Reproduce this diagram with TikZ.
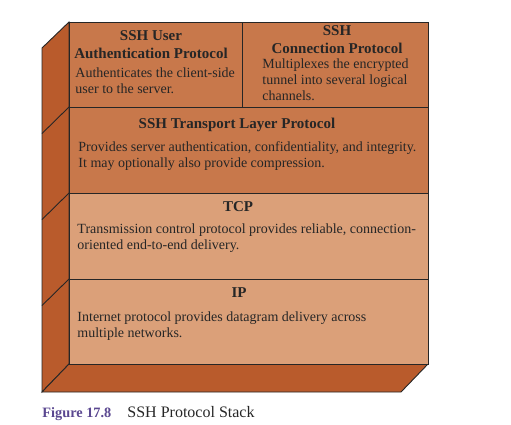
\documentclass[tikz,border=0pt]{standalone}
\usepackage{fontspec}
\setmainfont{Liberation Serif}
\definecolor{layerdark}{HTML}{C8784B}
\definecolor{layerlight}{HTML}{DBA079}
\definecolor{sideface}{HTML}{B95B2C}
\definecolor{figpurple}{HTML}{5A4790}
\definecolor{ink}{HTML}{262626}
\tikzset{
  title/.style={font=\fontsize{15}{17.5}\selectfont\bfseries, align=center, anchor=base, inner sep=0pt, text=ink},
  body/.style={font=\fontsize{14}{16}\selectfont, align=left, anchor=base west, inner sep=0pt, text=ink},
}
\begin{document}
\begin{tikzpicture}[x=1pt, y=-1pt, line width=0.9pt, draw=ink]
  \useasboundingbox (0,0) rectangle (511,424);
  % side and bottom faces
  \filldraw[fill=sideface] (69,22) -- (42,48) -- (42,392) -- (69,364) -- cycle;
  \filldraw[fill=sideface] (69,364) -- (428,364) -- (401,392) -- (42,392) -- cycle;
  \foreach \y in {107,193,279}
    \draw (69,\y) -- (42,\y+26.5);
  % front layers
  \filldraw[fill=layerdark] (69,22) rectangle (242,107);
  \filldraw[fill=layerdark] (242,22) rectangle (428,107);
  \filldraw[fill=layerdark] (69,107) rectangle (428,193);
  \filldraw[fill=layerlight] (69,193) rectangle (428,279);
  \filldraw[fill=layerlight] (69,279) rectangle (428,364);
  % user authentication (base = last line)
  \node[title] (authtitle) at (151,58) {SSH User\\Authentication Protocol};
  \node[body] (authtext) at (75,93) {Authenticates the client-side\\user to the server.};
  % connection
  \node[title] (conntitle) at (337,53) {SSH\\Connection Protocol};
  \node[body] (conntext) at (262,100) {Multiplexes the encrypted\\tunnel into several logical\\channels.};
  % transport
  \node[title] (transtitle) at (237,128) {SSH Transport Layer Protocol};
  \node[body] (transtext) at (78,167) {Provides server authentication, confidentiality, and integrity.\\It may optionally also provide compression.};
  % tcp
  \node[title] (tcptitle) at (238,211) {TCP};
  \node[body] (tcptext) at (77,249) {Transmission control protocol provides reliable, connection-\\oriented end-to-end delivery.};
  % ip
  \node[title] (iptitle) at (239,297) {IP};
  \node[body] (iptext) at (77,337) {Internet protocol provides datagram delivery across\\multiple networks.};
  % caption
  \node[anchor=base west, inner sep=0pt, font=\fontsize{14.3}{16}\selectfont\bfseries, text=figpurple] (figlabel) at (42,417) {Figure 17.8};
  \node[anchor=base west, inner sep=0pt, font=\fontsize{16}{18}\selectfont, text=ink] (figtitle) at (127,417) {SSH Protocol Stack};
\end{tikzpicture}
\end{document}
